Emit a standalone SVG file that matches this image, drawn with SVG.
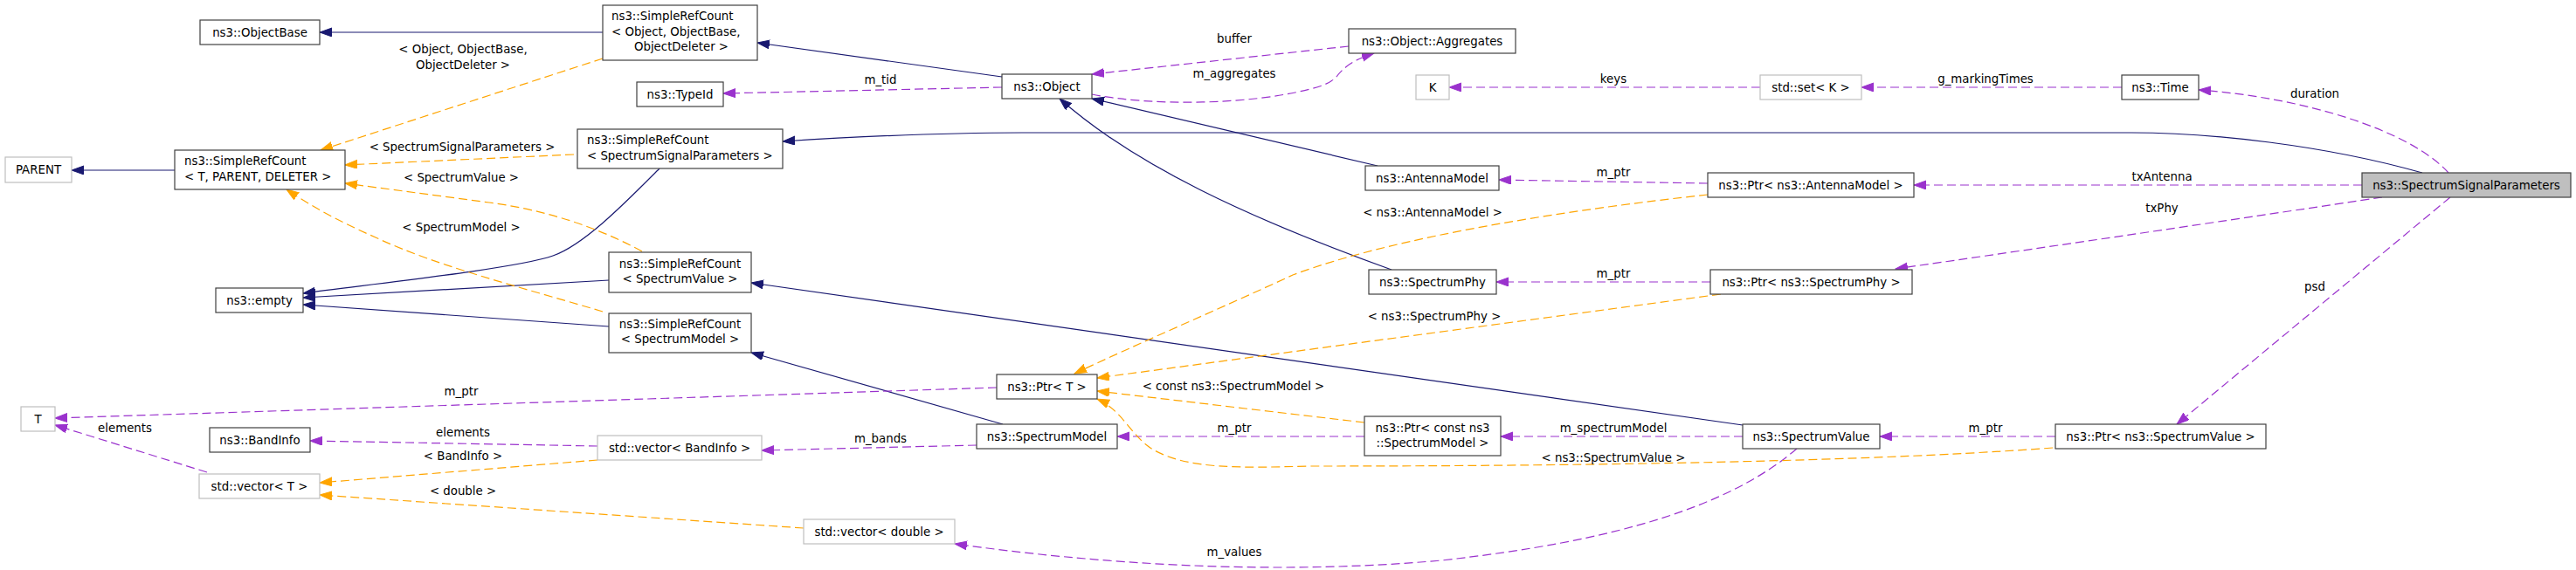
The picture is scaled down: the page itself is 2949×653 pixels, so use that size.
<svg xmlns="http://www.w3.org/2000/svg" width="2949" height="653" viewBox="0 0 2949 653">
<style>
text{font-family:"DejaVu Sans","Liberation Sans",sans-serif;font-size:13.33px;fill:#000}
.m{text-anchor:middle}
.s{text-anchor:start}
.box{fill:#fff;stroke:#404040;stroke-width:1.2}
.gbox{fill:#fff;stroke:#bfbfbf;stroke-width:1.2}
.cur{fill:#bfbfbf;stroke:#404040;stroke-width:1.2}
.inh{fill:none;stroke:#191970;stroke-width:1.2;marker-end:url(#ainh)}
.use{fill:none;stroke:#9a32cd;stroke-width:1.2;stroke-dasharray:10,5;marker-end:url(#ause)}
.tpl{fill:none;stroke:#ffa500;stroke-width:1.2;stroke-dasharray:10,5;marker-end:url(#atpl)}
</style>
<defs>
<marker id="ainh" markerUnits="userSpaceOnUse" markerWidth="15" markerHeight="11" refX="14" refY="5" orient="auto"><path d="M0,0 L14,5 L0,10 Z" fill="#191970" stroke="#191970"/></marker>
<marker id="ause" markerUnits="userSpaceOnUse" markerWidth="15" markerHeight="11" refX="14" refY="5" orient="auto"><path d="M0,0 L14,5 L0,10 Z" fill="#9a32cd" stroke="#9a32cd"/></marker>
<marker id="atpl" markerUnits="userSpaceOnUse" markerWidth="15" markerHeight="11" refX="14" refY="5" orient="auto"><path d="M0,0 L14,5 L0,10 Z" fill="#ffa500" stroke="#ffa500"/></marker>
</defs>
<rect width="2949" height="653" fill="#fff"/>
<g id="edges">
<path class="inh" d="M690,37 L366,37"/>
<path class="inh" d="M1147,88 L867,49"/>
<path class="inh" d="M200,195 L82,195"/>
<path class="inh" d="M2773,198 C2660,166 2530,152 2440,152 L1170,152 C1080,152 990,156 896,162"/>
<path class="inh" d="M755,193 C720,228 670,280 633,293 C590,308 420,326 347,336"/>
<path class="inh" d="M697,321 L347,341"/>
<path class="inh" d="M697,374 L347,349"/>
<path class="inh" d="M1577,190 L1250,113"/>
<path class="inh" d="M1593,309 C1430,250 1300,190 1213,113"/>
<path class="inh" d="M1995,487 L860,324"/>
<path class="inh" d="M1148,486 L860,404"/>

<path class="use" d="M1147,100 L828,107"/>
<text class="m" x="1008" y="96">m_tid</text>
<path class="use" d="M1544,53 L1250,85"/>
<text class="m" x="1413" y="49">buffer</text>
<path class="use" d="M1250,108 C1320,122 1430,120 1500,102 C1520,97 1526,92 1530,88 C1537,78 1550,68 1573,61"/>
<text class="m" x="1413" y="89">m_aggregates</text>
<path class="use" d="M2015,100 L1659,100"/>
<text class="m" x="1847" y="95">keys</text>
<path class="use" d="M2429,100 L2131,100"/>
<text class="m" x="2273" y="95">g_markingTimes</text>
<path class="use" d="M2803,198 C2760,150 2640,112 2517,103"/>
<text class="m" x="2650" y="112">duration</text>
<path class="use" d="M2704,212 L2191,212"/>
<text class="m" x="2475" y="207">txAntenna</text>
<path class="use" d="M2727,226 C2600,245 2400,275 2170,308"/>
<text class="m" x="2475" y="243">txPhy</text>
<path class="use" d="M2805,226 L2492,486"/>
<text class="m" x="2650" y="333">psd</text>
<path class="use" d="M1955,210 L1716,206"/>
<text class="m" x="1847" y="202">m_ptr</text>
<path class="use" d="M1958,323 L1713,323"/>
<text class="m" x="1847" y="318">m_ptr</text>
<path class="use" d="M1141,444 L63,479"/>
<text class="m" x="528" y="453">m_ptr</text>
<path class="use" d="M237,541 L63,487"/>
<text class="m" x="143" y="495">elements</text>
<path class="use" d="M684,511 L355,505"/>
<text class="m" x="530" y="500">elements</text>
<path class="use" d="M1118,510 L872,516"/>
<text class="m" x="1008" y="507">m_bands</text>
<path class="use" d="M1562,500 L1279,500"/>
<text class="m" x="1413" y="495">m_ptr</text>
<path class="use" d="M1995,500 L1718,500"/>
<text class="m" x="1847" y="495">m_spectrumModel</text>
<path class="use" d="M2353,500 L2152,500"/>
<text class="m" x="2273" y="495">m_ptr</text>
<path class="use" d="M2057,514 C1980,580 1850,620 1650,642 C1450,660 1250,645 1093,623"/>
<text class="m" x="1413" y="637">m_values</text>

<path class="tpl" d="M690,67 L367,172"/>
<text class="m" x="530" y="61">&lt; Object, ObjectBase,</text>
<text class="m" x="530" y="79">ObjectDeleter &gt;</text>
<path class="tpl" d="M657,177 L395,189"/>
<text class="m" x="529" y="173">&lt; SpectrumSignalParameters &gt;</text>
<path class="tpl" d="M735,288 C680,258 620,240 560,232 C500,224 440,216 395,210"/>
<text class="m" x="528" y="208">&lt; SpectrumValue &gt;</text>
<path class="tpl" d="M690,357 C600,330 500,305 430,272 C380,250 350,232 328,217"/>
<text class="m" x="528" y="265">&lt; SpectrumModel &gt;</text>
<path class="tpl" d="M1955,223 C1800,240 1600,270 1480,315 C1400,352 1300,395 1230,428"/>
<text class="m" x="1640" y="248">&lt; ns3::AntennaModel &gt;</text>
<path class="tpl" d="M1970,337 L1256,433"/>
<text class="m" x="1642" y="367">&lt; ns3::SpectrumPhy &gt;</text>
<path class="tpl" d="M1562,484 L1256,448"/>
<text class="m" x="1412" y="447">&lt; const ns3::SpectrumModel &gt;</text>
<path class="tpl" d="M2350,513 C2100,532 1700,534 1500,534 C1420,536 1360,538 1320,515 C1295,500 1285,470 1256,457"/>
<text class="m" x="1847" y="529">&lt; ns3::SpectrumValue &gt;</text>
<path class="tpl" d="M684,527 L366,553"/>
<text class="m" x="530" y="527">&lt; BandInfo &gt;</text>
<path class="tpl" d="M920,605 L366,567"/>
<text class="m" x="530" y="567">&lt; double &gt;</text>
</g>

<g id="n_objbase"><rect class="box" x="229" y="23" width="137" height="28"/><text class="m" x="297.5" y="42">ns3::ObjectBase</text></g>
<g id="n_src_obj"><rect class="box" x="690" y="6" width="177" height="63"/><text class="s" x="700" y="23">ns3::SimpleRefCount</text><text class="s" x="700" y="41">&lt; Object, ObjectBase,</text><text class="m" x="780" y="58">ObjectDeleter &gt;</text></g>
<g id="n_typeid"><rect class="box" x="729" y="94" width="99" height="28"/><text class="m" x="778.5" y="113">ns3::TypeId</text></g>
<g id="n_src_ssp"><rect class="box" x="661" y="148" width="235" height="45"/><text class="s" x="672" y="165">ns3::SimpleRefCount</text><text class="s" x="672" y="183">&lt; SpectrumSignalParameters &gt;</text></g>
<g id="n_src_sv"><rect class="box" x="697" y="289" width="163" height="46"/><text class="m" x="778.5" y="307">ns3::SimpleRefCount</text><text class="m" x="778.5" y="324">&lt; SpectrumValue &gt;</text></g>
<g id="n_src_sm"><rect class="box" x="697" y="359" width="163" height="45"/><text class="m" x="778.5" y="376">ns3::SimpleRefCount</text><text class="m" x="778.5" y="393">&lt; SpectrumModel &gt;</text></g>
<g id="n_object"><rect class="box" x="1147" y="85" width="103" height="28"/><text class="m" x="1198.5" y="104">ns3::Object</text></g>
<g id="n_aggr"><rect class="box" x="1544" y="33" width="191" height="28"/><text class="m" x="1639.5" y="52">ns3::Object::Aggregates</text></g>
<g id="n_k"><rect class="gbox" x="1621" y="86" width="38" height="28"/><text class="m" x="1640" y="105">K</text></g>
<g id="n_set"><rect class="gbox" x="2015" y="86" width="116" height="28"/><text class="m" x="2073" y="105">std::set&lt; K &gt;</text></g>
<g id="n_time"><rect class="box" x="2429" y="86" width="88" height="28"/><text class="m" x="2473" y="105">ns3::Time</text></g>
<g id="n_ssp"><rect class="cur" x="2704" y="198" width="239" height="28"/><text class="m" x="2823.5" y="217">ns3::SpectrumSignalParameters</text></g>
<g id="n_antenna"><rect class="box" x="1563" y="190" width="153" height="28"/><text class="m" x="1639.5" y="209">ns3::AntennaModel</text></g>
<g id="n_ptr_ant"><rect class="box" x="1955" y="198" width="236" height="28"/><text class="m" x="2073" y="217">ns3::Ptr&lt; ns3::AntennaModel &gt;</text></g>
<g id="n_phy"><rect class="box" x="1567" y="309" width="146" height="28"/><text class="m" x="1640" y="328">ns3::SpectrumPhy</text></g>
<g id="n_ptr_phy"><rect class="box" x="1958" y="309" width="231" height="28"/><text class="m" x="2073.5" y="328">ns3::Ptr&lt; ns3::SpectrumPhy &gt;</text></g>
<g id="n_parent"><rect class="gbox" x="6" y="180" width="76" height="29"/><text class="m" x="44" y="199">PARENT</text></g>
<g id="n_src_tpd"><rect class="box" x="200" y="172" width="195" height="45"/><text class="s" x="211" y="189">ns3::SimpleRefCount</text><text class="s" x="211" y="207">&lt; T, PARENT, DELETER &gt;</text></g>
<g id="n_empty"><rect class="box" x="247" y="330" width="100" height="28"/><text class="m" x="297" y="349">ns3::empty</text></g>
<g id="n_t"><rect class="gbox" x="24" y="466" width="39" height="28"/><text class="m" x="43.5" y="485">T</text></g>
<g id="n_bandinfo"><rect class="box" x="240" y="490" width="115" height="28"/><text class="m" x="297.5" y="509">ns3::BandInfo</text></g>
<g id="n_vec_t"><rect class="gbox" x="228" y="543" width="138" height="28"/><text class="m" x="297" y="562">std::vector&lt; T &gt;</text></g>
<g id="n_vec_bi"><rect class="gbox" x="684" y="499" width="188" height="28"/><text class="m" x="778" y="518">std::vector&lt; BandInfo &gt;</text></g>
<g id="n_vec_d"><rect class="gbox" x="920" y="595" width="173" height="28"/><text class="m" x="1006.5" y="614">std::vector&lt; double &gt;</text></g>
<g id="n_ptr_t"><rect class="box" x="1141" y="429" width="115" height="28"/><text class="m" x="1198.5" y="448">ns3::Ptr&lt; T &gt;</text></g>
<g id="n_sm"><rect class="box" x="1118" y="486" width="161" height="28"/><text class="m" x="1198.5" y="505">ns3::SpectrumModel</text></g>
<g id="n_ptr_csm"><rect class="box" x="1562" y="477" width="156" height="45"/><text class="m" x="1640" y="495">ns3::Ptr&lt; const ns3</text><text class="m" x="1640" y="512">::SpectrumModel &gt;</text></g>
<g id="n_sv"><rect class="box" x="1995" y="486" width="157" height="28"/><text class="m" x="2073.5" y="505">ns3::SpectrumValue</text></g>
<g id="n_ptr_sv"><rect class="box" x="2353" y="486" width="241" height="28"/><text class="m" x="2473.5" y="505">ns3::Ptr&lt; ns3::SpectrumValue &gt;</text></g>
</svg>
